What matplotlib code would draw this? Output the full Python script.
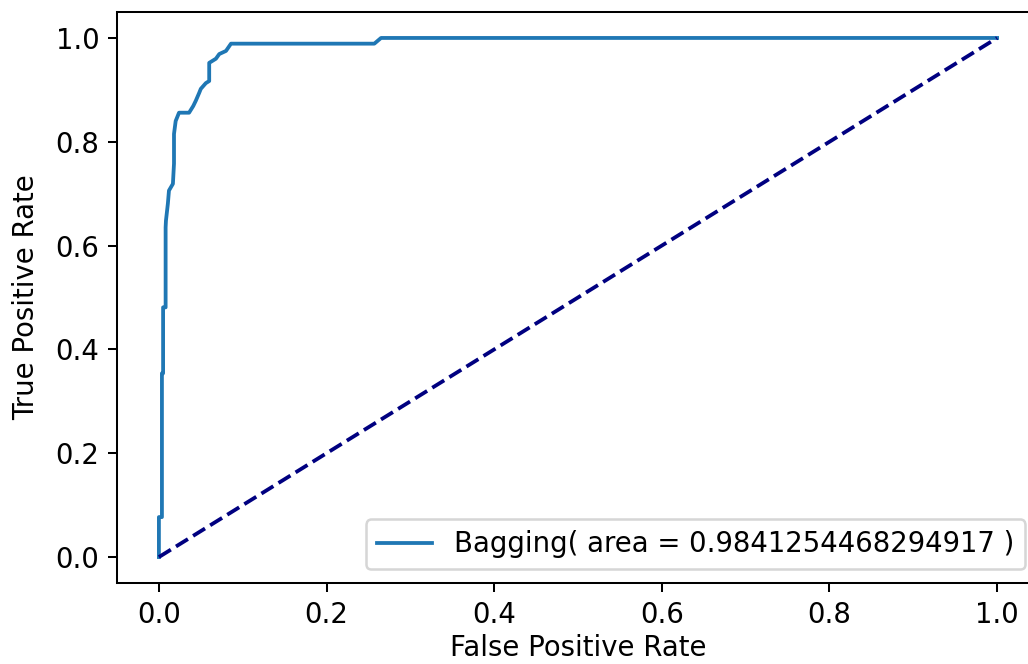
import matplotlib
matplotlib.use("Agg")
import matplotlib.pyplot as plt

# ROC curve vertices
fpr = [0.0, 0.0, 0.0036, 0.0036, 0.005, 0.005, 0.008, 0.008, 0.0084, 0.0107, 0.012,
       0.0167, 0.018, 0.018, 0.020, 0.024, 0.036, 0.041, 0.044, 0.048, 0.050,
       0.056, 0.060, 0.060, 0.068, 0.072, 0.080, 0.086, 0.257, 0.265, 1.0]
tpr = [0.0, 0.077, 0.077, 0.354, 0.354, 0.481, 0.481, 0.635, 0.648, 0.681, 0.706,
       0.719, 0.758, 0.815, 0.840, 0.856, 0.856, 0.869, 0.879, 0.894, 0.902,
       0.913, 0.917, 0.952, 0.960, 0.969, 0.975, 0.989, 0.989, 1.0, 1.0]
auc_label = 'Bagging( area = 0.9841254468294917 )'

plt.rcParams['font.size'] = 10.9

dpi = 182
fig = plt.figure(figsize=(1028 / dpi, 664 / dpi), dpi=dpi)
# the original picture is cut off on the right, so the axes run past the edge
ax = fig.add_axes([117 / 1028, 81 / 664, 922 / 1028, 571 / 664])

ax.plot(fpr, tpr, label=auc_label)
ax.plot([0, 1], [0, 1], color='navy', linestyle='--')
ax.set_xlabel('False Positive Rate', labelpad=2)
ax.set_ylabel('True Positive Rate', labelpad=6)
ax.legend(loc='lower right')

fig.savefig('out.png', dpi=dpi)
